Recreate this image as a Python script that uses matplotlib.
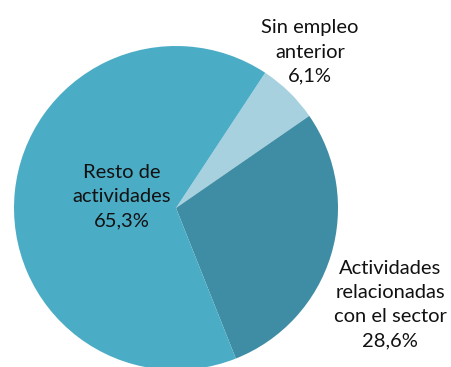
import matplotlib
matplotlib.use("Agg")
import matplotlib.pyplot as plt

# share of people by previous employment
labels = ["Sin empleo\nanterior", "Actividades\nrelacionadas\ncon el sector", "Resto de\nactividades"]
values = [6.1, 28.6, 65.3]
colors = ["#A8D1DF", "#3F8DA4", "#4BACC6"]

plt.rcParams["font.family"] = ["Lato", "DejaVu Sans"]

fig = plt.figure(figsize=(4.51, 3.67), dpi=100)
ax = fig.add_axes([0, 0, 1, 1])

# pixel-like coordinates, y up
ax.pie(values, colors=colors, startangle=56.6, counterclock=False,
       center=(176, 159), radius=162, frame=True,
       wedgeprops=dict(linewidth=0))
ax.set_xlim(0, 451)
ax.set_ylim(0, 367)
ax.axis("off")

label_pos = [(310, 315), (390, 62), (122, 170)]
for lab, v, (x, y) in zip(labels, values, label_pos):
    txt = lab + "\n" + ("%.1f%%" % v).replace(".", ",")
    ax.text(x, y, txt, ha="center", va="center", fontsize=14.5,
            linespacing=1.5, color="#111111")

fig.savefig("out.png", dpi=100)
